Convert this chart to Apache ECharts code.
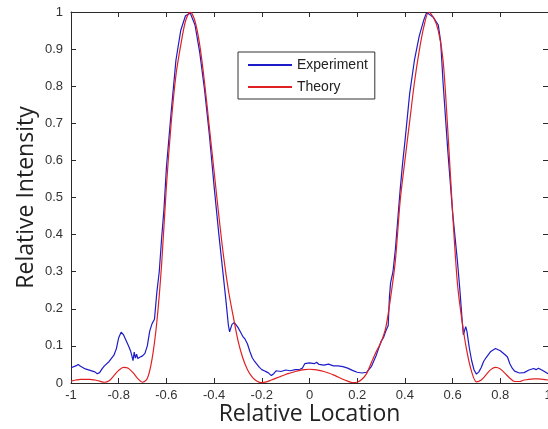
<!DOCTYPE html>
<html>
<head>
<meta charset="utf-8">
<script src="https://cdn.jsdelivr.net/npm/echarts@6/dist/echarts.min.js"></script>
<style>
  html, body { margin: 0; padding: 0; background: #fff; }
  #chart { width: 548px; height: 429px; }
</style>
</head>
<body>
<div id="chart"></div>
<script>
// Measured intensity profile (Experiment)
const expX = [
  -1.00, -0.98, -0.97, -0.96, -0.94, -0.92, -0.90, -0.89, -0.88, -0.87,
  -0.86, -0.84, -0.82, -0.81, -0.80, -0.79, -0.78, -0.77, -0.76, -0.75,
  -0.745, -0.74, -0.735, -0.73, -0.725, -0.72, -0.71, -0.70, -0.69, -0.68,
  -0.67, -0.66, -0.65, -0.64, -0.63, -0.62, -0.61, -0.60, -0.58, -0.56,
  -0.54, -0.52, -0.50, -0.48, -0.46, -0.44, -0.42, -0.40, -0.38, -0.36,
  -0.35, -0.34, -0.335, -0.325, -0.315, -0.30, -0.29, -0.28, -0.27, -0.26,
  -0.25, -0.24, -0.23, -0.22, -0.21, -0.20, -0.19, -0.18, -0.17, -0.16,
  -0.15, -0.14, -0.12, -0.10, -0.08, -0.06, -0.04, -0.03, -0.02, 0.00,
  0.02, 0.03, 0.04, 0.06, 0.08, 0.10, 0.12, 0.14, 0.16, 0.18,
  0.20, 0.22, 0.24, 0.26, 0.28, 0.30, 0.31, 0.32, 0.33, 0.335,
  0.34, 0.35, 0.36, 0.37, 0.38, 0.39, 0.40, 0.42, 0.44, 0.46,
  0.48, 0.49, 0.50, 0.52, 0.54, 0.55, 0.56, 0.58, 0.60, 0.62,
  0.63, 0.64, 0.645, 0.655, 0.66, 0.67, 0.68, 0.69, 0.70, 0.71,
  0.72, 0.73, 0.74, 0.76, 0.78, 0.80, 0.82, 0.83, 0.84, 0.85,
  0.86, 0.88, 0.90, 0.92, 0.94, 0.95, 0.96, 0.98, 1.00
];
const expY = [
  0.041, 0.046, 0.050, 0.045, 0.038, 0.034, 0.030, 0.025, 0.028, 0.038,
  0.046, 0.058, 0.075, 0.092, 0.122, 0.137, 0.130, 0.116, 0.102, 0.086,
  0.074, 0.060, 0.083, 0.067, 0.078, 0.066, 0.070, 0.073, 0.080, 0.100,
  0.140, 0.160, 0.172, 0.245, 0.300, 0.390, 0.470, 0.580, 0.730, 0.870,
  0.950, 0.990, 0.997, 0.965, 0.890, 0.790, 0.670, 0.530, 0.400, 0.280,
  0.220, 0.155, 0.138, 0.158, 0.163, 0.150, 0.138, 0.126, 0.118, 0.105,
  0.085, 0.068, 0.058, 0.050, 0.042, 0.036, 0.033, 0.030, 0.026, 0.020,
  0.025, 0.033, 0.031, 0.035, 0.033, 0.036, 0.037, 0.040, 0.052, 0.054,
  0.052, 0.056, 0.050, 0.048, 0.051, 0.046, 0.046, 0.044, 0.040, 0.034,
  0.029, 0.027, 0.029, 0.045, 0.075, 0.112, 0.122, 0.140, 0.155, 0.230,
  0.270, 0.300, 0.360, 0.440, 0.520, 0.590, 0.650, 0.780, 0.870, 0.935,
  0.980, 0.997, 0.995, 0.985, 0.965, 0.920, 0.810, 0.625, 0.460, 0.330,
  0.255, 0.170, 0.130, 0.152, 0.140, 0.095, 0.060, 0.035, 0.024, 0.030,
  0.042, 0.058, 0.068, 0.085, 0.093, 0.087, 0.076, 0.070, 0.052, 0.040,
  0.032, 0.027, 0.028, 0.035, 0.039, 0.036, 0.040, 0.033, 0.025
];

// Computed intensity profile (Theory)
const theoX = [
  -1.00, -0.98, -0.96, -0.94, -0.92, -0.90, -0.88, -0.86, -0.84, -0.82,
  -0.80, -0.78, -0.76, -0.74, -0.72, -0.70, -0.68, -0.66, -0.64, -0.62,
  -0.60, -0.58, -0.56, -0.54, -0.52, -0.50, -0.48, -0.46, -0.44, -0.42,
  -0.40, -0.38, -0.36, -0.34, -0.32, -0.30, -0.28, -0.26, -0.24, -0.22,
  -0.20, -0.18, -0.16, -0.14, -0.12, -0.10, -0.08, -0.06, -0.04, -0.02,
  0.00, 0.02, 0.04, 0.06, 0.08, 0.10, 0.12, 0.14, 0.16, 0.18,
  0.20, 0.22, 0.24, 0.26, 0.28, 0.30, 0.32, 0.34, 0.36, 0.38,
  0.40, 0.42, 0.44, 0.46, 0.48, 0.50, 0.52, 0.54, 0.56, 0.58,
  0.60, 0.62, 0.64, 0.66, 0.68, 0.70, 0.72, 0.74, 0.76, 0.78,
  0.80, 0.82, 0.84, 0.86, 0.88, 0.90, 0.92, 0.94, 0.96, 0.98,
  1.00
];
const theoY = [
  0.005, 0.008, 0.010, 0.010, 0.010, 0.008, 0.005, 0.002, 0.006, 0.020,
  0.034, 0.042, 0.040, 0.028, 0.012, 0.002, 0.012, 0.065, 0.165, 0.320,
  0.530, 0.700, 0.830, 0.910, 0.975, 1.000, 0.975, 0.910, 0.810, 0.690,
  0.570, 0.450, 0.340, 0.250, 0.180, 0.115, 0.068, 0.036, 0.016, 0.005,
  0.001, 0.003, 0.008, 0.013, 0.018, 0.023, 0.027, 0.031, 0.034, 0.036,
  0.037, 0.036, 0.034, 0.031, 0.027, 0.022, 0.016, 0.010, 0.005, 0.001,
  0.002, 0.010, 0.026, 0.056, 0.085, 0.110, 0.150, 0.230, 0.330, 0.490,
  0.600, 0.705, 0.810, 0.895, 0.962, 1.000, 0.985, 0.950, 0.870, 0.680,
  0.460, 0.270, 0.165, 0.085, 0.030, 0.003, 0.008, 0.022, 0.036, 0.042,
  0.038, 0.026, 0.013, 0.004, 0.004, 0.008, 0.010, 0.011, 0.011, 0.010,
  0.008
];

// Axis ranges and tick spacing
const xRange = [-1, 1];
const yRange = [0, 1];
const xStep = 0.2;
const yStep = 0.1;

const pairs = (xs, ys) => xs.map((x, i) => [x, ys[i]]);

const tickFont = { fontFamily: 'Liberation Sans', fontSize: 13, color: '#333' };
const frame = { show: true, onZero: false, lineStyle: { color: '#2a2a2a', width: 1 } };
const inTick = { show: true, inside: true, length: 5, lineStyle: { color: '#2a2a2a', width: 1 } };
const nameFont = { fontFamily: 'Open Sans', fontSize: 23, color: '#222' };

const chart = echarts.init(document.getElementById('chart'), null, { renderer: 'canvas' });
chart.setOption({
  animation: false,
  backgroundColor: '#fff',
  grid: { left: 71, right: 0, top: 12, bottom: 46, outerBoundsMode: 'none', containLabel: false },
  legend: {
    orient: 'vertical',
    left: 238,
    top: 52,
    padding: [6, 7, 5, 9],
    itemWidth: 44,
    itemHeight: 14,
    itemGap: 8,
    backgroundColor: '#fff',
    borderColor: '#333',
    borderWidth: 1,
    itemStyle: { opacity: 0 },
    textStyle: { fontFamily: 'Liberation Sans', fontSize: 14, color: '#222' },
    data: ['Experiment', 'Theory']
  },
  xAxis: [
    {
      type: 'value', position: 'bottom',
      min: xRange[0], max: xRange[1], interval: xStep,
      name: 'Relative Location', nameLocation: 'middle', nameGap: 20,
      nameMoveOverlap: false,
      nameTextStyle: nameFont,
      axisLine: frame, axisTick: inTick,
      axisLabel: Object.assign({ margin: 6 }, tickFont),
      splitLine: { show: false }
    },
    {
      type: 'value', position: 'top',
      min: xRange[0], max: xRange[1], interval: xStep,
      axisLine: frame, axisTick: inTick,
      axisLabel: { show: false }, splitLine: { show: false }
    }
  ],
  yAxis: [
    {
      type: 'value', position: 'left',
      min: yRange[0], max: yRange[1], interval: yStep,
      name: 'Relative Intensity', nameLocation: 'middle', nameGap: 33,
      nameMoveOverlap: false,
      nameTextStyle: nameFont,
      axisLine: frame, axisTick: inTick,
      axisLabel: Object.assign({ margin: 8 }, tickFont),
      splitLine: { show: false }
    },
    {
      type: 'value', position: 'right',
      min: yRange[0], max: yRange[1], interval: yStep,
      axisLine: frame, axisTick: inTick,
      axisLabel: { show: false }, splitLine: { show: false }
    }
  ],
  series: [
    {
      name: 'Experiment', type: 'line', xAxisIndex: 0, yAxisIndex: 0,
      data: pairs(expX, expY), symbol: 'none', smooth: false,
      lineStyle: { color: '#1c1cc8', width: 1.2 }, itemStyle: { color: '#1c1cc8' }
    },
    {
      name: 'Theory', type: 'line', xAxisIndex: 0, yAxisIndex: 0,
      data: pairs(theoX, theoY), symbol: 'none', smooth: 0.3,
      lineStyle: { color: '#e02020', width: 1.2 }, itemStyle: { color: '#e02020' }
    }
  ]
});
</script>
</body>
</html>
